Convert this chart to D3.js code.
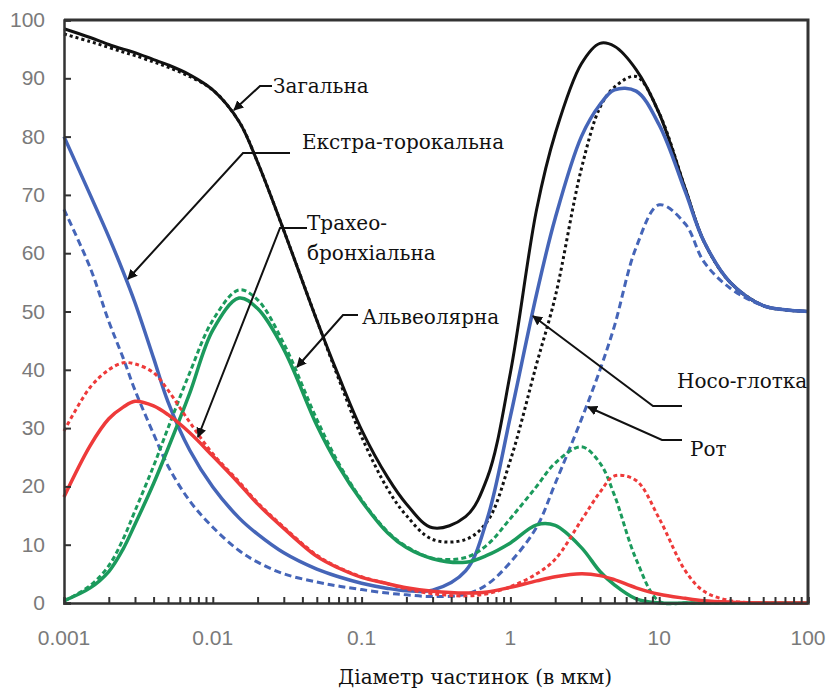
<!DOCTYPE html>
<html>
<head>
<meta charset="utf-8">
<script src="https://cdn.jsdelivr.net/npm/d3@7"></script>
<style>
    body { margin: 0; background: #fff; }
    .tick-label { font-family: 'Liberation Sans', Arial, sans-serif; font-size: 21px; fill: #7a7a7a; }
    .note { font-family: 'DejaVu Serif', 'Liberation Serif', serif; font-size: 20px; fill: #111; }
    .xlabel { font-family: 'DejaVu Serif', 'Liberation Serif', serif; font-size: 20px; fill: #111; }
</style>
</head>
<body>
<div id="chart"></div>
<script>
// particle diameter, um
var diameters = [0.001, 0.0015, 0.002, 0.0025, 0.003, 0.004, 0.005, 0.007, 0.01, 0.015, 0.02, 0.03, 0.05, 0.07,
    0.1, 0.15, 0.2, 0.3, 0.5, 0.7, 1, 1.5, 2, 3, 4, 5, 7, 10, 15, 20, 30, 50, 70, 100];

// deposition fraction, %
var totalNose   = [98.5, 97, 95.8, 95, 94.4, 93.2, 92.3, 90.6, 88, 82.6, 75.6, 63.9, 48.5, 39,
    29.7, 21.5, 17, 12.9, 14.8, 21.5, 39.5, 67.5, 80.5, 92.5, 96, 95.5, 91.5, 84, 71, 62, 55, 51, 50.3, 50];
var totalMouth  = [97.6, 96.3, 95.3, 94.5, 93.9, 92.8, 91.9, 90.3, 88, 82.6, 75.6, 63.9, 48.5, 38.5,
    28.5, 19.5, 15, 10.9, 10.9, 14, 24.5, 41, 52.5, 74.5, 85, 88.5, 90.3, 84, 71, 62, 55, 51, 50.3, 50];
var etNose      = [80, 70, 62.8, 56.8, 51.5, 42, 34.5, 26.2, 19.9, 14.6, 11.8, 8.6, 5.8, 4.5,
    3.4, 2.5, 2.1, 2.2, 5.5, 14.5, 32, 53, 66, 80, 85.5, 88, 87.8, 82, 70.5, 62, 55, 51, 50.3, 50];
var etMouth     = [67.5, 57.5, 48.3, 42, 36.5, 29, 23.5, 17.5, 13, 9, 7, 5, 3.6, 2.9,
    2.3, 1.7, 1.4, 1.1, 1.5, 3.2, 7, 13, 20.5, 31.5, 40, 47.5, 61, 68.3, 65, 58.5, 54, 51, 50.3, 50];
var alvNose     = [0.4, 2.6, 5.4, 9.3, 13.5, 20.5, 26.5, 36, 46.8, 52.3, 50.5, 43.5, 30.5, 23.5,
    17.5, 12, 9.5, 7.6, 7, 8.2, 10.3, 13.4, 13.3, 9.5, 5.4, 3.1, 0.7, 0, 0, 0, 0, 0, 0, 0];
var alvMouth    = [0.3, 3, 6.4, 11, 15.8, 23.5, 30, 39.5, 48.5, 53.7, 52, 44.5, 31.5, 24,
    17.7, 12.2, 9.7, 7.7, 7.8, 10, 14.5, 20, 24, 26.8, 24, 18.5, 7.5, 0.3, 0, 0, 0, 0, 0, 0];
var tbNose      = [18.2, 27, 31.6, 33.6, 34.6, 33.8, 32.3, 29.2, 25.2, 20.5, 17, 12.8, 8, 6,
    4.4, 3.3, 2.6, 2, 1.7, 1.9, 2.7, 3.8, 4.5, 5, 4.7, 4, 2.6, 1.5, 0.8, 0.4, 0.15, 0, 0, 0];
var tbMouth     = [29.5, 37, 40, 41.2, 41, 39.5, 36.5, 31, 25.6, 20.8, 17.2, 13, 8.2, 6.1,
    4.5, 3.3, 2.4, 1.6, 1.2, 1.6, 2.8, 5, 7.5, 14.2, 19, 21.8, 21, 14.5, 5.5, 2, 0.4, 0, 0, 0];

var xTicks = [0.001, 0.01, 0.1, 1, 10, 100];
var yTicks = [0, 10, 20, 30, 40, 50, 60, 70, 80, 90, 100];
var xTitle = 'Діаметр частинок (в мкм)';

var series = [
    { values: totalNose,  color: '#111111', dash: null,  width: 3 },
    { values: totalMouth, color: '#111111', dash: '3,3', width: 3 },
    { values: etNose,     color: '#4565b8', dash: null,  width: 3.5 },
    { values: etMouth,    color: '#4565b8', dash: '7,4', width: 3 },
    { values: alvNose,    color: '#1b9a5c', dash: null,  width: 3.5 },
    { values: alvMouth,   color: '#1b9a5c', dash: '5,3', width: 3 },
    { values: tbNose,     color: '#ee3a3a', dash: null,  width: 3.5 },
    { values: tbMouth,    color: '#ee3a3a', dash: '4,3', width: 3 }
];

var margin = { top: 20, left: 64, bottom: 90, right: 23 },
    width = 831 - margin.left - margin.right,
    height = 693 - margin.top - margin.bottom;

var svg = d3.select('#chart').append('svg')
    .attr('width', width + margin.left + margin.right)
    .attr('height', height + margin.top + margin.bottom)
    .append('g')
    .attr('transform', 'translate(' + margin.left + ', ' + margin.top + ')');

var x = d3.scaleLog().domain([0.001, 100]).range([0, width]);
var y = d3.scaleLinear().domain([0, 100]).range([height, 0]);

// curves
var line = d3.line()
    .x((d, i) => x(diameters[i]))
    .y(d => Math.min(y(d), height))
    .curve(d3.curveCatmullRom.alpha(0.5));

svg.selectAll('.curve')
    .data(series)
    .enter()
    .append('path')
    .attr('class', 'curve')
    .attr('d', d => line(d.values))
    .attr('fill', 'none')
    .attr('stroke', d => d.color)
    .attr('stroke-width', d => d.width)
    .attr('stroke-dasharray', d => d.dash)
    .attr('stroke-linejoin', 'round');

// frame
svg.append('path')
    .attr('d', 'M0,0H' + width + 'V' + height)
    .attr('fill', 'none')
    .attr('stroke', '#333')
    .attr('stroke-width', 3);

var yAxis = d3.axisRight(y)
    .tickValues(yTicks)
    .tickSize(7)
    .tickFormat('');
svg.append('g').call(yAxis)
    .call(g => g.select('.domain').attr('stroke', '#333').attr('stroke-width', 2.5))
    .call(g => g.selectAll('.tick line').attr('stroke', '#333').attr('stroke-width', 2));

var minor = [];
for (var e = -3; e < 2; e++) {
    for (var m = 2; m <= 10; m++) minor.push(m * Math.pow(10, e));
}
var xAxis = d3.axisTop(x)
    .tickValues(minor)
    .tickSize(6)
    .tickFormat('');
svg.append('g')
    .attr('transform', 'translate(0,' + height + ')')
    .call(xAxis)
    .call(g => g.select('.domain').attr('stroke', '#333').attr('stroke-width', 2.5))
    .call(g => g.selectAll('.tick line').attr('stroke', '#333').attr('stroke-width', 2));

// tick labels
svg.selectAll('.ylab')
    .data(yTicks)
    .enter()
    .append('text')
    .attr('class', 'tick-label')
    .attr('x', -19)
    .attr('y', d => y(d) + 7)
    .attr('text-anchor', 'end')
    .text(d => d);

svg.selectAll('.xlab')
    .data(xTicks)
    .enter()
    .append('text')
    .attr('class', 'tick-label')
    .attr('x', d => x(d))
    .attr('y', height + 42)
    .attr('text-anchor', 'middle')
    .text(d => d);

svg.append('text')
    .attr('class', 'xlabel')
    .attr('x', 475 - margin.left)
    .attr('y', height + 81)
    .attr('text-anchor', 'middle')
    .text(xTitle);

// annotations (page pixel positions of leader, label)
svg.append('defs').append('marker')
    .attr('id', 'arrow')
    .attr('viewBox', '0 0 10 10')
    .attr('refX', 9).attr('refY', 5)
    .attr('markerWidth', 5).attr('markerHeight', 5)
    .attr('orient', 'auto')
    .append('path')
    .attr('d', 'M0,0L10,5L0,10z')
    .attr('fill', '#111');

var notes = [
    { text: ['Загальна'], pts: [[272, 86], [260, 86], [234, 110]], tx: 273, ty: 93 },
    { text: ['Екстра-торокальна'], pts: [[290, 153], [243, 153], [128, 279]], tx: 302, ty: 149 },
    { text: ['Трахео-', 'бронхіальна'], pts: [[307, 228], [280, 228], [198, 437]], tx: 307, ty: 230 },
    { text: ['Альвеолярна'], pts: [[358, 315], [343, 315], [297, 367]], tx: 362, ty: 324 },
    { text: ['Носо-глотка'], pts: [[682, 406], [653, 406], [533, 316]], tx: 677, ty: 388 },
    { text: ['Рот'], pts: [[682, 440], [662, 440], [588, 407]], tx: 690, ty: 456 }
];

notes.forEach(n => {
    svg.append('path')
        .attr('d', d3.line()(n.pts.map(p => [p[0] - margin.left, p[1] - margin.top])))
        .attr('fill', 'none')
        .attr('stroke', '#111')
        .attr('stroke-width', 2)
        .attr('marker-end', 'url(#arrow)');
    n.text.forEach((t, i) => {
        svg.append('text')
            .attr('class', 'note')
            .attr('x', n.tx - margin.left)
            .attr('y', n.ty - margin.top + i * 30)
            .text(t);
    });
});
</script>
</body>
</html>
